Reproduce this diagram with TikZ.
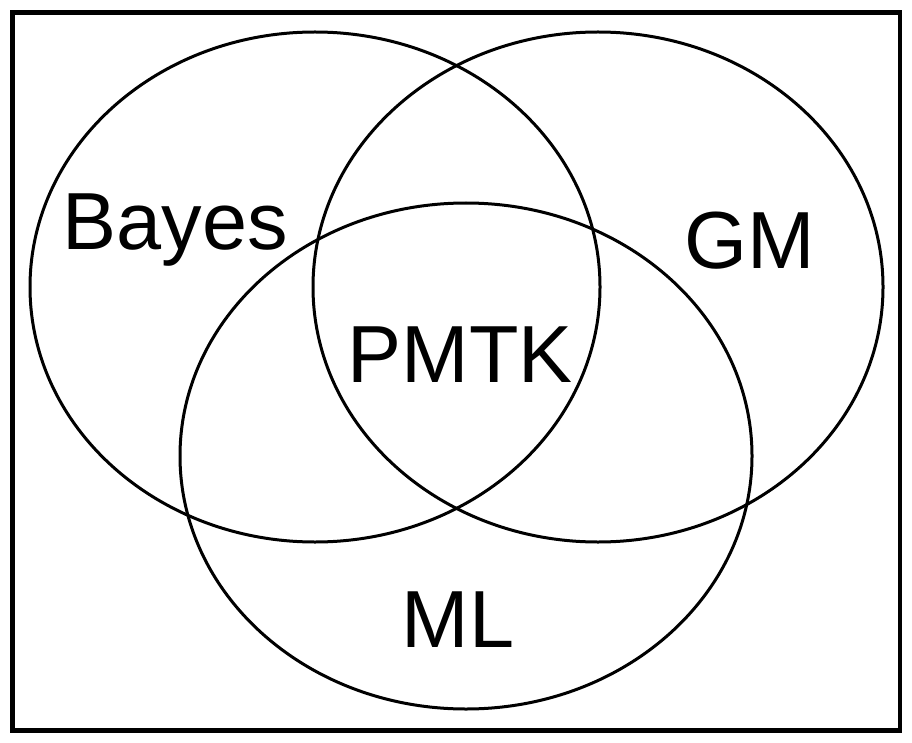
\documentclass[tikz,border=0pt]{standalone}
\usepackage{fontspec}
\setmainfont{Liberation Sans}
\begin{document}
\begin{tikzpicture}[x=1pt,y=-1pt,
  venn/.style={draw=black,line width=3pt},
  frame/.style={draw=black,line width=4.2pt},
  lbl/.style={anchor=base,inner sep=0pt,font=\fontsize{81}{81}\selectfont}]
\useasboundingbox (0,0) rectangle (912,743);
\fill[white] (0,0) rectangle (912,743);
\draw[frame] (12.5,12.5) rectangle (899.7,730.5);
\draw[venn] (315,287) ellipse [x radius=285, y radius=255];
\draw[venn] (598,287) ellipse [x radius=285, y radius=255];
\draw[venn] (466,456) ellipse [x radius=286, y radius=253];
\node[lbl] (bayes) at (175,250) {Bayes};
\node[lbl] (gm) at (750,269) {GM};
\node[lbl] (pmtk) at (460,382) {PMTK};
\node[lbl] (ml) at (458,647) {ML};
\end{tikzpicture}
\end{document}
